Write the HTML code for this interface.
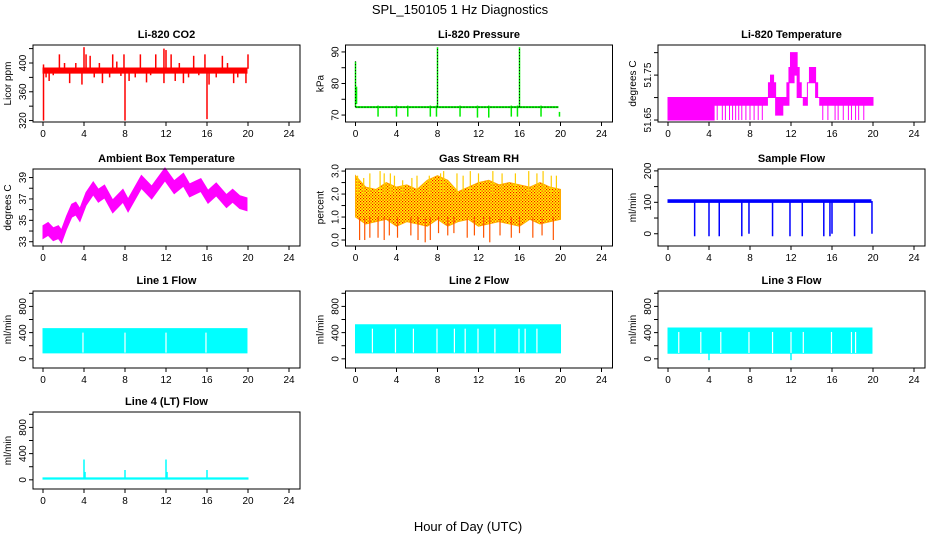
<!DOCTYPE html>
<html><head><meta charset="utf-8"><style>
html,body{margin:0;padding:0;background:#fff;}
svg{display:block;font-family:"Liberation Sans",sans-serif;}
</style></head><body>
<svg id="chart" width="936" height="540" viewBox="0 0 936 540">
<defs>
<pattern id="rhpat" width="3" height="3" patternUnits="userSpaceOnUse">
<rect width="3" height="3" fill="#ffff00"/><rect x="0" y="0" width="1.2" height="1.2" fill="#ff0000"/><rect x="1.5" y="1.5" width="1.2" height="1.2" fill="#ff0000"/>
</pattern>
</defs>
<text x="460" y="14" font-size="13" text-anchor="middle">SPL_150105  1 Hz Diagnostics</text>
<text x="468" y="531" font-size="13" text-anchor="middle">Hour of Day (UTC)</text>
</svg>
<script>
// ---------- data ----------
const xTicks = [0,4,8,12,16,20,24];
// CO2
const co2BandT = [0,19.9];
const co2BandLo = [386,386];
const co2BandHi = [393,393];
const co2SpikeT = [0.05,0.3,0.6,1.0,1.6,2.1,2.6,3.2,3.8,4.0,4.2,4.6,5.0,5.5,5.8,6.5,6.8,7.2,7.6,7.9,8.0,8.4,9.0,9.5,10.1,10.5,11.0,11.8,12.0,12.5,12.9,13.3,13.7,14.2,14.7,15.2,15.8,16.0,16.2,16.9,17.5,18.0,18.6,19.0,19.8,20.0];
const co2SpikeLo = [320,380,375,383,392,392,372,392,370,392,392,392,380,392,372,380,392,392,382,392,320,375,380,392,373,383,392,372,390,392,375,392,372,380,392,383,392,322,370,380,392,392,372,380,372,392];
const co2SpikeHi = [398,392,392,392,412,400,390,400,392,422,412,410,392,400,392,392,412,402,392,412,392,392,392,412,392,392,412,420,418,412,392,400,392,392,410,392,412,392,392,392,410,400,392,392,392,412];
// Pressure
const presBase = 72.5;
const presSpikeT = [0.0,0.1,8.0,16.0,2.2,4.0,5.1,7.3,7.9,10.2,11.9,13.0,15.2,15.8,18.1,19.9];
const presSpikeLo = [72.5,73.5,72.5,72.5,69.5,69.5,69.5,69.5,69.5,69.5,69.2,69.2,69.5,69.5,69.5,69.5];
const presSpikeHi = [87,79,91.5,91.5,73,73,73,73,73,73,73,73,73,73,73,71];
// Li-820 temperature (step envelopes)
const ltT  = [0,4.5,9.7,9.8,10.0,10.3,10.5,11.2,11.6,11.8,11.95,12.3,12.6,12.8,13.0,13.2,13.6,13.8,14.4,14.6,14.8,20];
const ltHi = [51.70,51.70,51.70,51.733,51.75,51.733,51.70,51.70,51.733,51.767,51.80,51.80,51.767,51.733,51.70,51.70,51.733,51.767,51.733,51.70,51.70,51.70];
const ltLo = [51.65,51.683,51.70,51.70,51.70,51.70,51.661,51.683,51.683,51.733,51.733,51.75,51.70,51.70,51.70,51.683,51.733,51.733,51.70,51.70,51.683,51.683];
const ltDipT = [4.8,5.3,5.6,6.0,6.3,6.6,6.9,7.2,7.6,8.0,8.4,8.8,9.2,15.1,15.6,16.3,16.6,17.1,17.6,17.9,18.3,18.6,19.1];
// Ambient box temperature
const ambT = [0,0.5,1,1.5,1.8,2.3,2.8,3.2,3.6,4.2,4.9,5.4,6.0,6.8,7.8,8.3,9.6,10.6,11.9,12.8,13.7,14.3,15.4,16.1,16.9,17.9,18.5,19.2,19.9];
const ambMid = [33.9,34.2,33.7,33.9,33.5,34.8,35.9,36.1,35.5,37.0,38.0,37.3,37.7,36.3,37.3,36.4,38.6,37.6,39.3,38.1,38.8,37.8,38.3,37.2,37.9,36.8,37.3,36.7,36.5];
const ambHalf = 0.6;
// Gas stream RH
const rhT  = [0,1,2,3,4,5,6,7,8,9,10,11,12,13,14,15,16,17,18,19,20];
const rhHi = [2.8,2.3,2.2,2.5,2.3,2.4,2.2,2.6,2.8,2.6,2.1,2.3,2.5,2.6,2.4,2.5,2.4,2.3,2.5,2.3,2.2];
const rhLo = [1.0,0.7,0.8,0.9,0.6,0.8,0.7,0.6,0.9,0.6,0.8,0.9,0.6,0.7,0.8,0.7,0.6,0.9,0.7,0.8,0.9];
const rhUpT = [0.2,0.8,1.4,2.4,2.8,3.4,3.8,4.6,5.5,6.0,7.2,8.3,8.6,9.9,10.5,11.2,12.0,13.4,14.3,15.6,16.9,17.7,18.3,19.1,19.6];
const rhUpV = [2.8,2.7,2.9,3.0,2.9,2.9,2.8,2.6,2.7,2.8,2.8,2.9,3.0,2.9,2.8,3.0,2.9,3.0,2.9,2.9,3.0,2.9,3.0,2.8,2.8];
const rhDnT = [0.4,0.9,1.4,2.2,2.8,3.3,4.1,5.4,6.1,6.8,7.3,8.1,9.0,9.6,10.9,11.6,12.5,13.1,14.1,15.2,16.0,17.3,18.2,19.3];
const rhDnV = [0.0,0.0,0.1,0.1,0.0,0.2,0.1,0.2,0.0,-0.1,0.0,0.3,0.2,0.3,0.1,0.2,0.1,-0.1,0.2,0.1,0.3,0.1,0.2,0.0];
// Sample flow
const sfBandT = [0,19.8];
const sfLo = [100,100];
const sfHi = [108,108];
const sfDipT = [2.6,4.0,5.0,7.2,7.9,10.2,11.9,13.1,15.2,15.8,16.0,18.2,19.9];
const sfDipV = [-8,-8,-8,-8,0,-8,-8,-8,-8,-8,0,-8,0];
// Line flows
const l1Band = [0,19.9]; const l1Lo = 90; const l1Hi = 460;
const l1GapT = [3.9,8.0,12.0,15.9];
const l2Band = [0,20.0]; const l2Lo = 90; const l2Hi = 520;
const l2GapT = [1.65,3.9,5.65,7.95,9.65,10.7,11.95,13.6,15.95,16.55,17.7];
const l3Band = [0,19.9]; const l3Lo = 85; const l3Hi = 470;
const l3GapT = [1.05,3.2,5.15,7.9,10.2,12.0,13.2,15.95,17.9,18.3];
const l3DipT = [4.0,12.0]; const l3DipV = [-20,-20];
const l4Base = [10,30];
const l4SpikeT = [4.0,4.1,8.0,12.0,12.1,16.0];
const l4SpikeV = [310,120,150,310,120,150];

// ---------- layout ----------
const svg = document.getElementById('chart');
const NS = 'http://www.w3.org/2000/svg';
const colL = [33,345.5,658], rowT = [45,169,291,412], BW = 267, BH = 77;
function el(tag, attrs, parent){const e=document.createElementNS(NS,tag);for(const k in attrs)e.setAttribute(k,attrs[k]);(parent||svg).appendChild(e);return e;}

function panel(col,row,title,ylab,ymin,ymax,yt,ylabIdx,name){
  const L=colL[col],T=rowT[row];
  const g=el('g',{});
  
  
  const xs=t=>L+10+t/24*246;
  const ys=v=>T+BH-(v-ymin)/(ymax-ymin)*BH;
  const tt=el('text',{x:L+BW/2,y:T-7,'font-size':11,'font-weight':'bold','text-anchor':'middle'},g);
  tt.textContent=title;
  
  
  const plot=el('g',{'clip-path':''},g);
  const bx=el('rect',{x:L,y:T,width:BW,height:BH,fill:'none',stroke:'#000','stroke-width':1},g);
  
  
  // x axis
  const xa=el('g',{},g);
  
  
  xTicks.forEach(t=>{
    el('line',{x1:xs(t),x2:xs(t),y1:T+BH,y2:T+BH+4,stroke:'#000'},xa);
    const lb=el('text',{x:xs(t),y:T+BH+15,'font-size':10,'text-anchor':'middle'},xa);
    lb.textContent=t;
  });
  // y axis
  const ya=el('g',{},g);
  
  
  yt.forEach((v,i)=>{
    el('line',{x1:L,x2:L-4,y1:ys(v),y2:ys(v),stroke:'#000'},ya);
    if(ylabIdx.includes(i)){
      const lb=el('text',{x:L-7,y:ys(v),'font-size':10,'text-anchor':'middle',transform:`rotate(-90 ${L-7} ${ys(v)})`},ya);
      lb.textContent=(typeof v==='number'&&ymax-ymin<1)?v.toFixed(2):(ymax-ymin<5?v.toFixed(1):v);
    }
  });
  const yl=el('text',{x:L-22,y:T+BH/2,'font-size':10,'text-anchor':'middle',transform:`rotate(-90 ${L-22} ${T+BH/2})`},g);
  yl.textContent=ylab;
  
  
  return {g:plot,xs,ys};
}
function vline(p,t,a,b,color,w,name){
  const l=el('line',{x1:p.xs(t),x2:p.xs(t),y1:p.ys(a),y2:p.ys(b),stroke:color,'stroke-width':w||1},p.g);
  
  
  return l;
}
function band(p,t,lo,hi,fill,name,step){
  let pts=[];
  for(let i=0;i<t.length;i++){ if(step&&i>0)pts.push([p.xs(t[i]),p.ys(hi[i-1])]); pts.push([p.xs(t[i]),p.ys(hi[i])]); }
  const lower=[];
  for(let i=0;i<t.length;i++){ if(step&&i>0)lower.push([p.xs(t[i]),p.ys(lo[i-1])]); lower.push([p.xs(t[i]),p.ys(lo[i])]); }
  pts=pts.concat(lower.reverse());
  const pg=el('polygon',{points:pts.map(q=>q.join(',')).join(' '),fill:fill,stroke:fill,'stroke-width':1},p.g);
  
  
  return pg;
}

// CO2
let p=panel(0,0,'Li-820 CO2','Licor ppm',318,425,[320,340,360,380,400,420],[0,2,4],'panel-co2');
band(p,co2BandT,co2BandLo,co2BandHi,'#ff0000','co2-band');
co2SpikeT.forEach((t,i)=>vline(p,t,co2SpikeLo[i],co2SpikeHi[i],'#ff0000',1.5,'co2-spike'));

// Pressure
p=panel(1,0,'Li-820 Pressure','kPa',67.8,92.2,[70,75,80,85,90],[0,2,4],'panel-pressure');
presSpikeT.forEach((t,i)=>vline(p,t,presSpikeLo[i],presSpikeHi[i],'#00ee00',i>=2&&i<4?1.5:1.5,'pressure-spike'));
{const bl=el('line',{x1:p.xs(0),x2:p.xs(19.8),y1:p.ys(presBase),y2:p.ys(presBase),stroke:'#00ee00','stroke-width':2},p.g);


const bd=el('line',{x1:p.xs(0),x2:p.xs(19.8),y1:p.ys(presBase),y2:p.ys(presBase),stroke:'#000','stroke-width':1,'stroke-dasharray':'1,2'},p.g);

}
[0,2,3].forEach(i=>{const l=vline(p,presSpikeT[i],presSpikeLo[i],presSpikeHi[i],'#000',1,'pressure-spike-dots');l.setAttribute('stroke-dasharray','1,2');});

// Li-820 temperature
p=panel(2,0,'Li-820 Temperature','degrees C',51.6456,51.817,[51.65,51.70,51.75,51.80],[0,2],'panel-li820-temp');
band(p,ltT,ltLo,ltHi,'#ff00ff','temp-band',true);
ltDipT.forEach(t=>vline(p,t,51.65,51.683,'#ff00ff',1,'temp-dip'));

// Ambient
p=panel(0,1,'Ambient Box Temperature','degrees C',32.6,39.8,[33,34,35,36,37,38,39],[0,2,4,6],'panel-ambient');
band(p,ambT,ambMid.map(v=>v-ambHalf),ambMid.map(v=>v+ambHalf),'#ff00ff','ambient-band');

// RH
p=panel(1,1,'Gas Stream RH','percent',-0.26,3.09,[0,0.5,1,1.5,2,2.5,3],[0,2,4,6],'panel-rh');
band(p,rhT,rhLo,rhHi,'url(#rhpat)','rh-band');
p.g.lastChild.setAttribute('stroke','#ffaa00');
rhUpT.forEach((t,i)=>vline(p,t,2.0,rhUpV[i],'#ffcc00',1.2,'rh-spike-up'));
rhDnT.forEach((t,i)=>vline(p,t,rhDnV[i],1.0,'#ff5500',1.2,'rh-spike-down'));

// Sample flow
p=panel(2,1,'Sample Flow','ml/min',-39,206,[0,50,100,150,200],[0,2,4],'panel-sample-flow');
band(p,sfBandT,sfLo,sfHi,'#0000ff','sample-flow-band');
sfDipT.forEach((t,i)=>vline(p,t,sfDipV[i],104,'#0000ff',1.5,'sample-flow-dip'));

// Line flows
function flow(col,row,title,bt,lo,hi,gaps,name){
  const q=panel(col,row,title,'ml/min',-140,1035,[0,200,400,600,800,1000],[0,2,4],name);
  band(q,bt,[lo,lo],[hi,hi],'#00ffff',name+'-band');
  gaps.forEach(t=>vline(q,t,lo+5,hi-60,'#ffffff',1.2,'flow-gap'));
  return q;
}
flow(0,2,'Line 1 Flow',l1Band,l1Lo,l1Hi,l1GapT,'panel-line1-flow');
flow(1,2,'Line 2 Flow',l2Band,l2Lo,l2Hi,l2GapT,'panel-line2-flow');
p=flow(2,2,'Line 3 Flow',l3Band,l3Lo,l3Hi,l3GapT,'panel-line3-flow');
l3DipT.forEach((t,i)=>vline(p,t,l3DipV[i],l3Lo,'#00ffff',1.5,'line3-dip'));
p=panel(0,3,'Line 4 (LT) Flow','ml/min',-140,1035,[0,200,400,600,800,1000],[0,2,4],'panel-line4-flow');
band(p,[0,20],[l4Base[0],l4Base[0]],[l4Base[1],l4Base[1]],'#00ffff','line4-band');
l4SpikeT.forEach((t,i)=>vline(p,t,l4Base[1],l4SpikeV[i],'#00ffff',1.5,'line4-spike'));
</script>
</body></html>
